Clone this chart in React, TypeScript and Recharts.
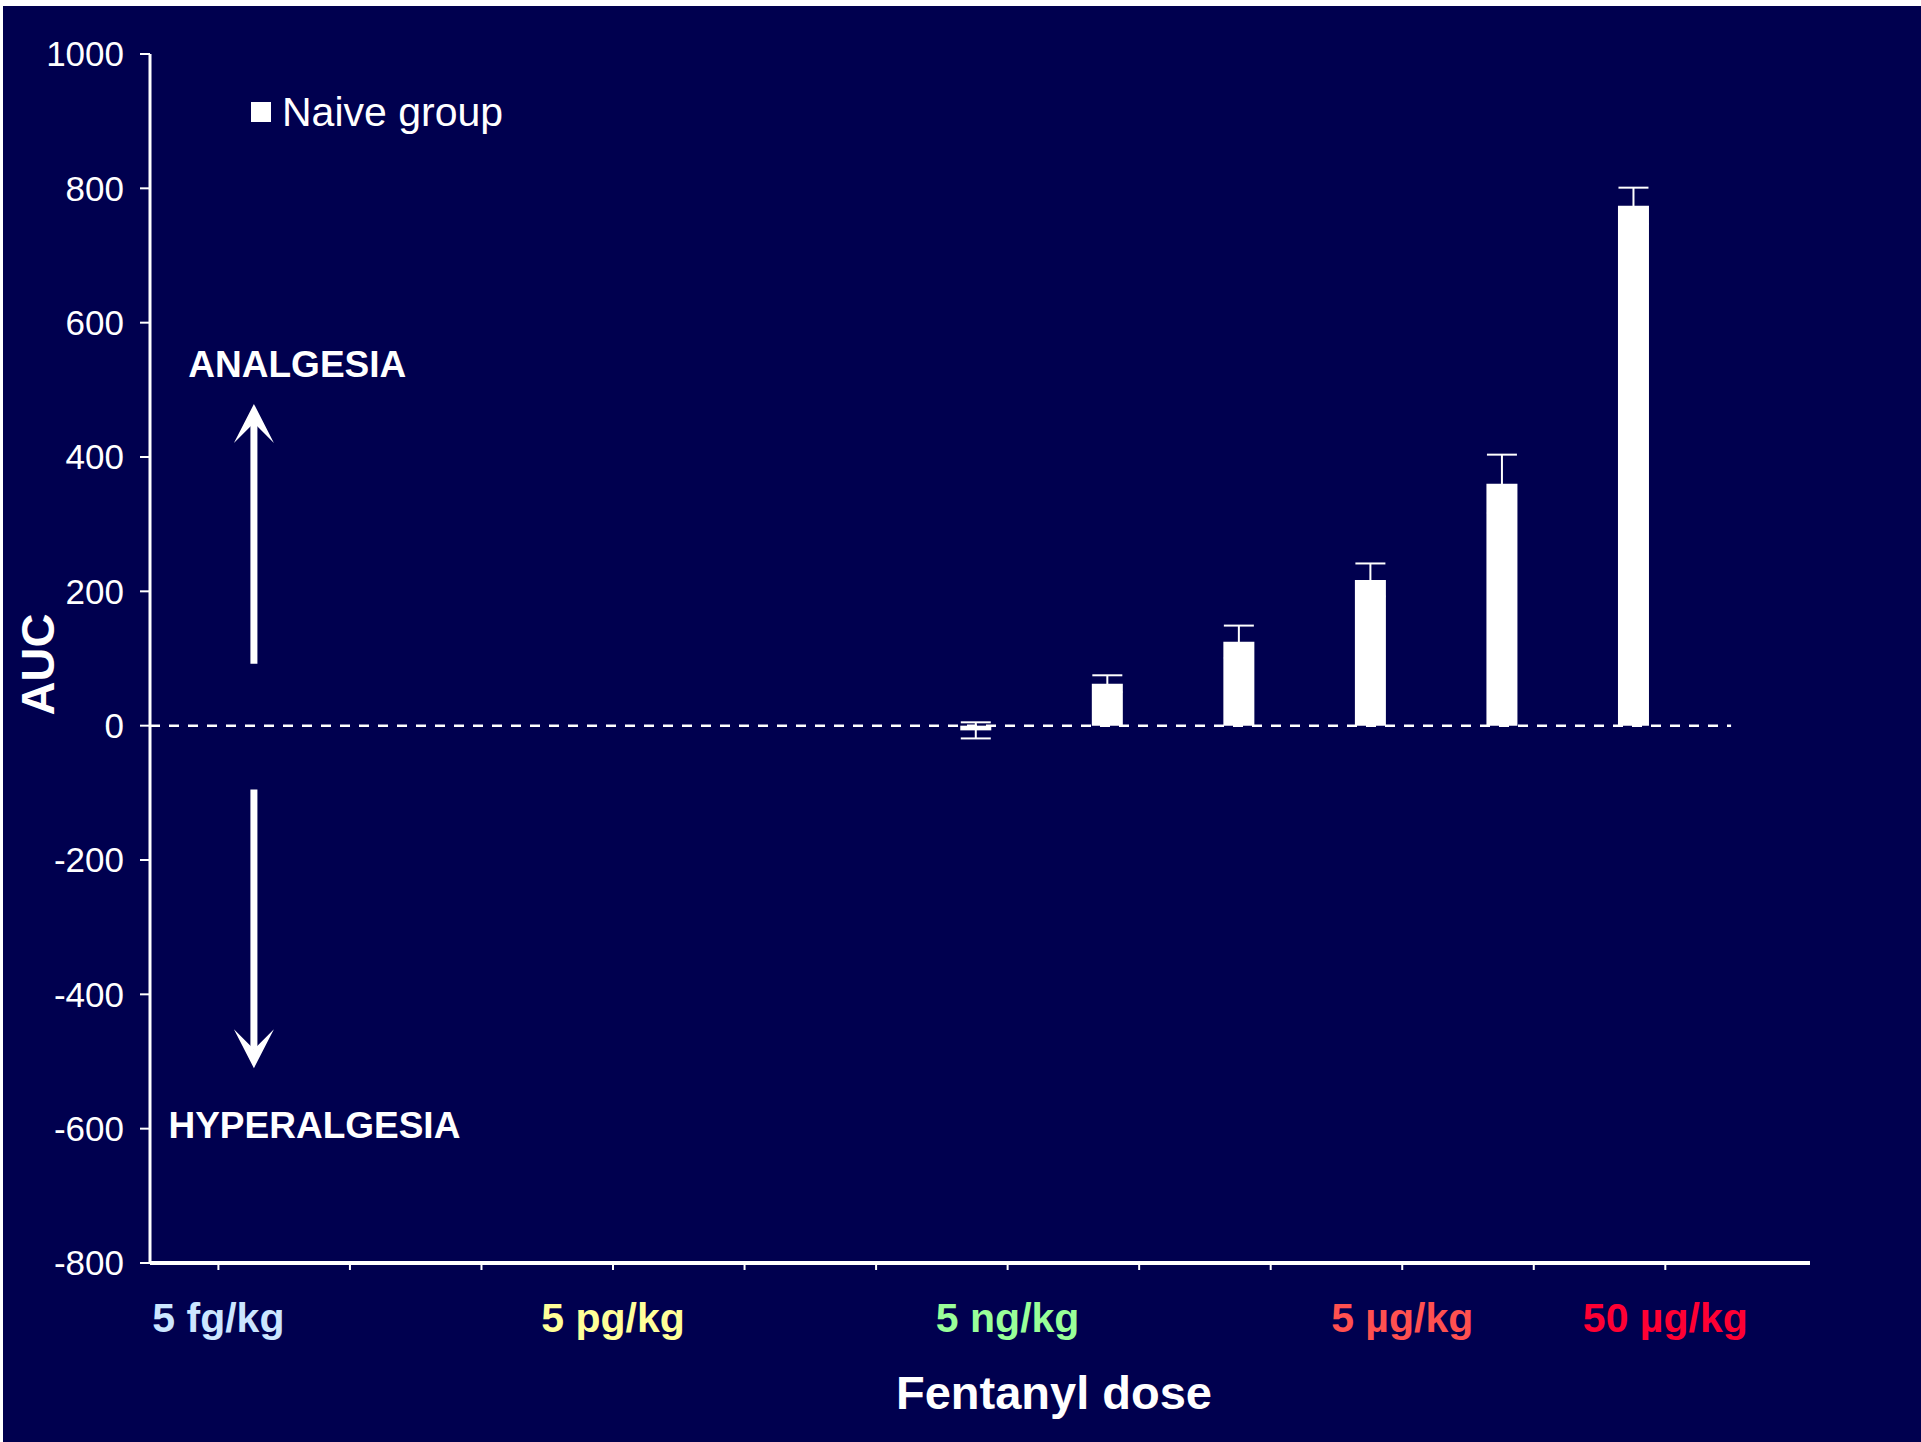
import React from "react";
import {
  ComposedChart,
  Bar,
  ErrorBar,
  XAxis,
  YAxis,
  ReferenceLine,
  ReferenceDot,
  Legend,
  Label,
} from "recharts";

const NAVY = "#00004F";
const FONT = "'Liberation Sans', Arial, Helvetica, sans-serif";

// dose axis: one tick per log step, only some of them labelled
const doseTicks = [0, 1, 2, 3, 4, 5, 6, 7, 8, 9, 10, 11];
const doseTickLabels = ["5 fg/kg", "", "", "5 pg/kg", "", "", "5 ng/kg", "", "", "5 µg/kg", "", "50 µg/kg"];
const doseTickColors = ["#CCE6FF", "", "", "#FFFF99", "", "", "#99FF99", "", "", "#FF5050", "", "#FF0033"];

// naive group bars (dose position on the axis, mean AUC, SEM)
const barDose = [5.76, 6.76, 7.76, 8.76, 9.76, 10.76];
const aucMean = [-7, 62.5, 125, 217, 360, 774];
const aucSem = [12, 12.5, 24, 24.5, 43.5, 27];

const aucTicks = [-800, -600, -400, -200, 0, 200, 400, 600, 800, 1000];

const data = barDose.map((dose, i) => ({ dose, auc: aucMean[i], sem: aucSem[i] }));

function DoseTick(props: any) {
  const { x, y, payload } = props;
  const i = doseTicks.indexOf(payload.value);
  const label = doseTickLabels[i];
  if (!label) return null;
  return (
    <text x={x} y={y} dy={60} textAnchor="middle" fill={doseTickColors[i]} fontSize={41} fontWeight="bold" fontFamily={FONT}>
      {label}
    </text>
  );
}

// vertical arrow with a notched head at (x2, y2)
function ArrowShape(props: any) {
  const { x1, y1, x2, y2 } = props;
  const dir = y2 < y1 ? -1 : 1;
  const notchY = y2 - dir * 19;
  const backY = y2 - dir * 39;
  return (
    <g>
      <line x1={x1} y1={y1} x2={x2} y2={notchY} stroke="#fff" strokeWidth={7} />
      <polygon points={`${x2},${y2} ${x2 + 20},${backY} ${x2},${notchY} ${x2 - 20},${backY}`} fill="#fff" />
    </g>
  );
}

function LegendBox(props: any) {
  const { payload = [] } = props;
  return (
    <div style={{ fontFamily: FONT, fontSize: 41, lineHeight: "46px", color: "#fff" }}>
      {payload.map((p: any) => (
        <div key={p.value} style={{ display: "flex", alignItems: "center" }}>
          <span style={{ width: 20, height: 20, background: "#fff", marginRight: 11, display: "inline-block" }} />
          {p.value}
        </div>
      ))}
    </div>
  );
}

export default function App() {
  return (
    <div style={{ position: "relative", width: 1921, height: 1442, background: "#fff", overflow: "hidden" }}>
      <style>{"body{margin:0}"}</style>
      <div style={{ position: "absolute", left: 3, top: 6, right: 0, bottom: 0, background: NAVY }} />
      <div style={{ position: "absolute", left: 0, top: 0 }}>
        <ComposedChart width={1921} height={1442} data={data} margin={{ top: 54, right: 111, bottom: 0, left: 0 }}>
          <XAxis
            type="number"
            dataKey="dose"
            domain={[-0.52, 12.1]}
            ticks={doseTicks}
            interval={0}
            allowDataOverflow
            height={179}
            axisLine={{ stroke: "#fff", strokeWidth: 4 }}
            tickLine={{ stroke: "#fff", strokeWidth: 2 }}
            tickSize={7}
            tick={<DoseTick />}
          >
            <Label value="Fentanyl dose" position="insideBottom" offset={33} dx={74} fill="#fff" fontSize={47} fontWeight="bold" fontFamily={FONT} />
          </XAxis>
          <YAxis
            type="number"
            domain={[-800, 1000]}
            ticks={aucTicks}
            interval={0}
            allowDataOverflow
            width={150}
            axisLine={{ stroke: "#fff", strokeWidth: 3 }}
            tickLine={{ stroke: "#fff", strokeWidth: 2 }}
            tickSize={10}
            tickMargin={16}
            tick={{ fill: "#fff", fontSize: 35, fontFamily: FONT }}
          >
            <Label value="AUC" angle={-90} position="center" dx={-38} dy={6} fill="#fff" fontSize={47} fontWeight="bold" fontFamily={FONT} />
          </YAxis>
          <Legend
            layout="vertical"
            align="center"
            verticalAlign="middle"
            wrapperStyle={{ left: 251, top: 89, width: "auto", height: "auto", margin: 0, padding: 0 }}
            content={<LegendBox />}
          />
          <ReferenceLine
            segment={[{ x: -0.52, y: 0 }, { x: 11.5, y: 0 }]}
            stroke="#fff"
            strokeWidth={2.5}
            strokeDasharray="10 9"
            ifOverflow="visible"
          />
          <Bar dataKey="auc" name="Naive group" fill="#fff" barSize={31} isAnimationActive={false}>
            <ErrorBar dataKey="sem" width={15} stroke="#fff" strokeWidth={2} direction="y" isAnimationActive={false} />
          </Bar>
          <ReferenceLine segment={[{ x: 0.27, y: 92 }, { x: 0.27, y: 479 }]} shape={ArrowShape} ifOverflow="visible" />
          <ReferenceLine segment={[{ x: 0.27, y: -95 }, { x: 0.27, y: -510 }]} shape={ArrowShape} ifOverflow="visible" />
          <ReferenceDot
            x={0.6}
            y={539}
            r={0}
            fill="none"
            stroke="none"
            ifOverflow="visible"
            label={{ value: "ANALGESIA", position: "center", fill: "#fff", fontSize: 37, fontWeight: "bold", fontFamily: FONT }}
          />
          <ReferenceDot
            x={0.73}
            y={-594}
            r={0}
            fill="none"
            stroke="none"
            ifOverflow="visible"
            label={{ value: "HYPERALGESIA", position: "center", fill: "#fff", fontSize: 37, fontWeight: "bold", fontFamily: FONT }}
          />
        </ComposedChart>
      </div>
    </div>
  );
}
